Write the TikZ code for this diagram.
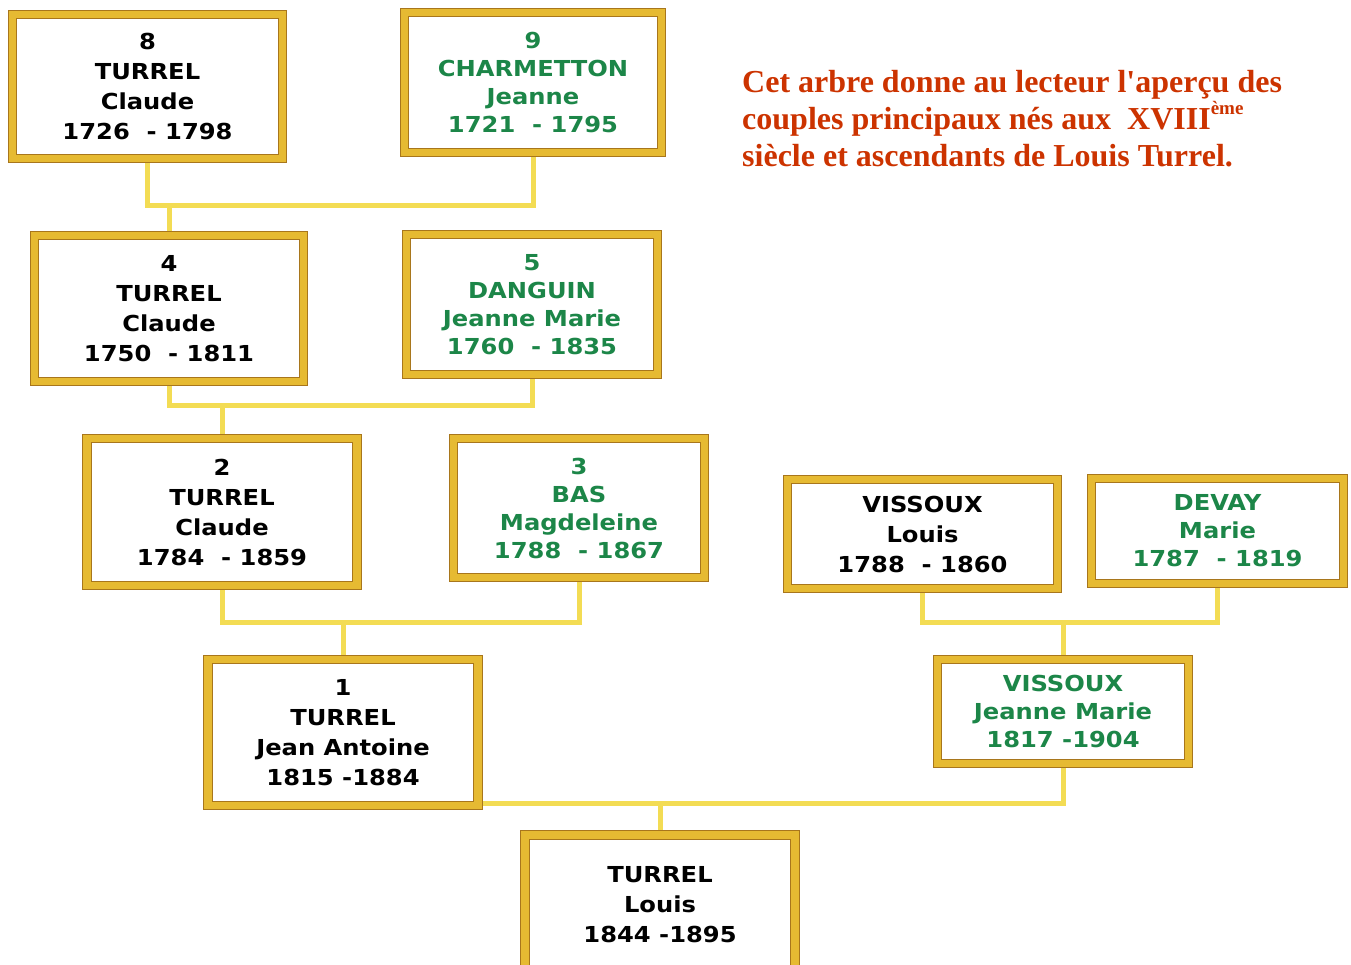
\documentclass[tikz,border=0pt]{standalone}
\usepackage{fontspec}
\setmainfont{Liberation Serif}
\newfontfamily\cadrefont[FakeStretch=1.1]{DejaVu Sans Bold}
\usetikzlibrary{backgrounds}
\definecolor{orCadre}{RGB}{230,186,50}
\definecolor{orFonce}{RGB}{168,118,28}
\definecolor{jauneLien}{RGB}{243,220,84}
\definecolor{vertNom}{RGB}{28,134,72}
\definecolor{rougeTitre}{RGB}{204,51,0}
\tikzset{
  cadre/.style={draw=orFonce, line width=1.2, double=orCadre, double distance=7.5,
    fill=white, align=center, inner sep=0,
    font=\cadrefont\fontsize{22}{30}\selectfont},
  cadrevert/.style={cadre, text=vertNom, font=\cadrefont\fontsize{22}{28}\selectfont},
  lien/.style={jauneLien, line width=5},
}
\begin{document}
\begin{tikzpicture}[x=1pt, y=-1pt]
  \useasboundingbox (0,0) rectangle (1351,964);
  \clip (0,0) rectangle (1351,964);

  % generation 4
  \node[cadre, minimum width=270, minimum height=144] (p8) at (147.5,86.5)
    {8\\TURREL\\Claude\\1726\ \ - 1798};
  \node[cadrevert, minimum width=257, minimum height=140] (p9) at (533,82.5)
    {9\\CHARMETTON\\Jeanne\\1721\ \ - 1795};

  % generation 3
  \node[cadre, minimum width=269, minimum height=146] (p4) at (169,308.5)
    {4\\TURREL\\Claude\\1750\ \ - 1811};
  \node[cadrevert, minimum width=251, minimum height=140] (p5) at (532,304.5)
    {5\\DANGUIN\\Jeanne Marie\\1760\ \ - 1835};

  % generation 2
  \node[cadre, minimum width=270, minimum height=147] (p2) at (222,512)
    {2\\TURREL\\Claude\\1784\ \ - 1859};
  \node[cadrevert, minimum width=251, minimum height=139] (p3) at (579,508)
    {3\\BAS\\Magdeleine\\1788\ \ - 1867};
  \node[cadre, minimum width=270, minimum height=109] (pVL) at (922.5,534)
    {VISSOUX\\Louis\\1788\ \ - 1860};
  \node[cadrevert, minimum width=252, minimum height=105] (pDM) at (1217.5,531)
    {DEVAY\\Marie\\1787\ \ - 1819};

  % generation 1
  \node[cadre, minimum width=270, minimum height=146] (p1) at (343,732.5)
    {1\\TURREL\\Jean Antoine\\1815 -1884};
  \node[cadrevert, minimum width=251, minimum height=104] (pJM) at (1063,711.5)
    {VISSOUX\\Jeanne Marie\\1817 -1904};

  % Louis
  \node[cadre, minimum width=270, minimum height=140] (pL) at (660,905)
    {TURREL\\Louis\\1844 -1895};

  % liens
  \coordinate (j89) at (169,205);
  \coordinate (j45) at (222,405);
  \coordinate (j23) at (343,622);
  \coordinate (jVD) at (1063,622);
  \coordinate (j1J) at (660,803);
  \begin{scope}[on background layer]
    \draw[lien] (p8.south) |- (j89) -| (p9.south);
    \draw[lien] (j89) -- (p4.north);
    \draw[lien] (p4.south) |- (j45) -| (p5.south);
    \draw[lien] (j45) -- (p2.north);
    \draw[lien] (p2.south) |- (j23) -| (p3.south);
    \draw[lien] (j23) -- (p1.north);
    \draw[lien] (pVL.south) |- (jVD) -| (pDM.south);
    \draw[lien] (jVD) -- (pJM.north);
    \draw[lien] (p1.east |- j1J) -- (j1J) -| (pJM.south);
    \draw[lien] (j1J) -- (pL.north);
  \end{scope}

  % texte
  \node[anchor=base west, align=left, text=rougeTitre, inner sep=0,
    font=\bfseries\fontsize{32}{37}\selectfont] (note) at (742,166)
    {Cet arbre donne au lecteur l\textquotesingle aperçu des\\
     couples principaux nés aux~ XVIII\raisebox{0.45em}{\fontsize{19}{19}\selectfont ème}\\
     siècle et ascendants de Louis Turrel.};
\end{tikzpicture}
\end{document}
